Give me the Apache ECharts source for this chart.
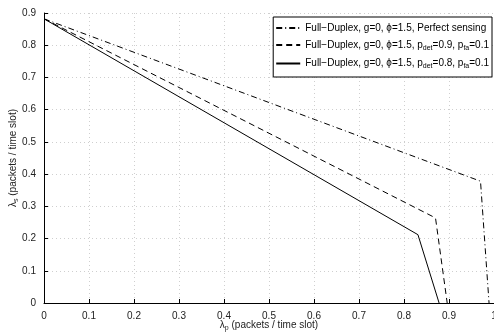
<!DOCTYPE html>
<html>
<head>
<meta charset="utf-8">
<script src="https://cdn.jsdelivr.net/npm/echarts@6/dist/echarts.min.js"></script>
<style>
  html, body { margin: 0; padding: 0; background: #fff; }
  #chart { width: 494px; height: 335px; }
</style>
</head>
<body>
<div id="chart"></div>
<script>
// lambda_p (x) and lambda_s (y) points of each curve
var perfectX = [0, 0.970, 0.989];
var perfectY = [0.882, 0.378, 0];
var det09X = [0, 0.870, 0.896];
var det09Y = [0.882, 0.264, 0];
var det08X = [0, 0.831, 0.878];
var det08Y = [0.882, 0.212, 0];

var seriesNames = ['perfect', 'det09', 'det08'];
var legendText = {
    perfect: '{n|Full\u2212Duplex, g=0, \u03d5=1.5, Perfect sensing}',
    det09: '{n|Full\u2212Duplex, g=0, \u03d5=1.5, p}{s|det}{n|=0.9, p}{s|fa}{n|=0.1}',
    det08: '{n|Full\u2212Duplex, g=0, \u03d5=1.5, p}{s|det}{n|=0.8, p}{s|fa}{n|=0.1}'
};

var FONT = '"Liberation Sans", Arial, Helvetica, sans-serif';

function pairs(xs, ys) {
    var out = [];
    for (var i = 0; i < xs.length; i++) {
        out.push([xs[i], ys[i]]);
    }
    return out;
}

var chart = echarts.init(document.getElementById('chart'));

var axisCommon = {
    type: 'value',
    axisLine: {show: true, lineStyle: {color: '#000', width: 1}},
    axisTick: {show: true, inside: true, length: 4, lineStyle: {color: '#000'}},
    axisLabel: {color: '#222', fontSize: 10, fontFamily: FONT},
    splitLine: {show: true, lineStyle: {color: '#cfcfcf', type: [1, 3], width: 1}},
    nameLocation: 'middle',
    nameMoveOverlap: false,
    nameTextStyle: {color: '#222', fontSize: 10, fontFamily: FONT}
};

chart.setOption({
    animation: false,
    backgroundColor: '#fff',
    grid: {left: 44, right: 0, top: 13, bottom: 32, outerBoundsMode: 'none', containLabel: false},
    xAxis: Object.assign({}, axisCommon, {
        min: 0, max: 1, interval: 0.1,
        name: '{a|\u03bb}{b|p}{a| (packets / time slot)}',
        nameGap: 16,
        nameTextStyle: {
            rich: {
                a: {fontSize: 10, fontFamily: FONT, color: '#222'},
                b: {fontSize: 7, fontFamily: FONT, color: '#222', padding: [6, 0, 0, 0]}
            }
        }
    }),
    yAxis: Object.assign({}, axisCommon, {
        min: 0, max: 0.9, interval: 0.1,
        name: '{a|\u03bb}{b|s}{a| (packets / time slot)}',
        nameGap: 24,
        nameRotate: 90,
        nameTextStyle: {
            rich: {
                a: {fontSize: 10, fontFamily: FONT, color: '#222'},
                b: {fontSize: 7, fontFamily: FONT, color: '#222', padding: [6, 0, 0, 0]}
            }
        }
    }),
    legend: {
        orient: 'vertical',
        right: 2,
        top: 17,
        padding: [6, 3, 7, 2],
        itemGap: 7,
        itemWidth: 24,
        itemHeight: 12,
        borderColor: '#000',
        borderWidth: 1,
        borderRadius: 0,
        backgroundColor: '#fff',
        data: seriesNames,
        formatter: function (name) { return legendText[name]; },
        itemStyle: {opacity: 0},
        textStyle: {
            color: '#000',
            rich: {
                n: {fontSize: 10, fontFamily: FONT, color: '#000', height: 14},
                s: {fontSize: 7, fontFamily: FONT, color: '#000', padding: [6, 0, 0, 0]}
            }
        }
    },
    series: [
        {
            name: 'perfect', type: 'line', symbol: 'none',
            data: pairs(perfectX, perfectY),
            itemStyle: {color: '#000'},
            lineStyle: {color: '#000', width: 1, type: [6, 3, 1, 3]}
        },
        {
            name: 'det09', type: 'line', symbol: 'none',
            data: pairs(det09X, det09Y),
            itemStyle: {color: '#000'},
            lineStyle: {color: '#000', width: 1, type: [6, 4]}
        },
        {
            name: 'det08', type: 'line', symbol: 'none',
            data: pairs(det08X, det08Y),
            itemStyle: {color: '#000'},
            lineStyle: {color: '#000', width: 1, type: 'solid'}
        }
    ]
});
</script>
</body>
</html>
